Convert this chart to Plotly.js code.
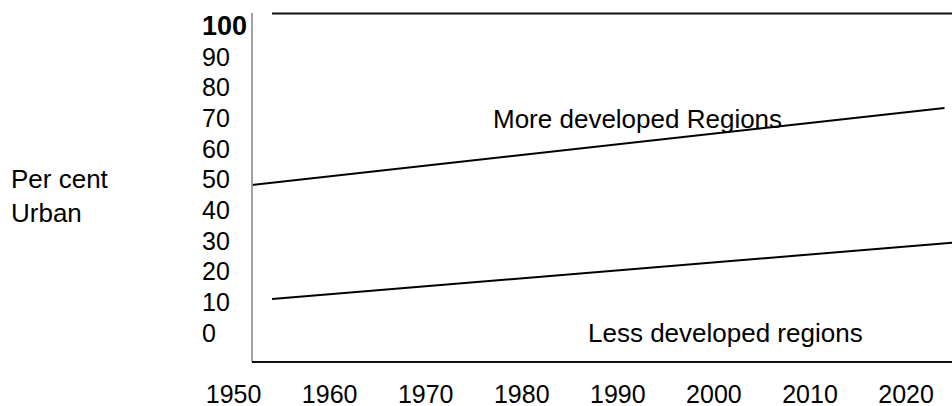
<!DOCTYPE html>
<html>
<head>
<meta charset="utf-8">
<script src="https://cdn.plot.ly/plotly-3.0.1.min.js"></script>
<style>html,body{margin:0;padding:0;background:#fff;}#chart{width:952px;height:406px;}</style>
</head>
<body>
<div id="chart"></div>
<script>
// Data
const yearTicks = [1950, 1960, 1970, 1980, 1990, 2000, 2010, 2020];
const pctTicks = [0, 10, 20, 30, 40, 50, 60, 70, 80, 90, 100];
const moreYears = [1952, 2024];
const morePct = [48.3, 73.4];
const lessYears = [1954, 2025];
const lessPct = [11.1, 29.5];
const labelMore = "More developed Regions";
const labelLess = "Less developed regions";
const yLabel = "Per cent<br>Urban";

const W = 952, H = 406;
const px = v => v / W;          // pixel -> paper x
const py = v => 1 - v / H;      // pixel -> paper y

const font = "Liberation Sans, Arial, sans-serif";
const pctText = pctTicks.map(v => v === 100 ? '<b><span style="font-size:27px">100</span></b>' : String(v));

const traces = [
  {x: moreYears, y: morePct, mode: 'lines', line: {color: '#000', width: 2}, hoverinfo: 'skip'},
  {x: lessYears, y: lessPct, mode: 'lines', line: {color: '#000', width: 2}, hoverinfo: 'skip'}
];

const layout = {
  width: W, height: H,
  margin: {l: 0, r: 0, t: 0, b: 0, pad: 0},
  paper_bgcolor: '#fff', plot_bgcolor: 'rgba(0,0,0,0)',
  showlegend: false,
  font: {family: font, size: 25, color: '#000'},
  xaxis: {
    domain: [0, 1], range: [1925.69, 2024.78],
    anchor: 'free', position: py(377), side: 'bottom',
    tickvals: yearTicks, ticktext: yearTicks.map(String),
    showgrid: false, zeroline: false, showline: false, ticks: '',
    automargin: false, tickfont: {size: 25, color: '#000'}
  },
  yaxis: {
    domain: [0, 1], range: [-23.81, 108.61],
    anchor: 'free', position: px(201), side: 'right',
    tickvals: pctTicks, ticktext: pctText,
    showgrid: false, zeroline: false, showline: false, ticks: '',
    automargin: false, tickfont: {size: 25, color: '#000'}
  },
  shapes: [
    {type: 'line', xref: 'paper', yref: 'paper', x0: px(252), x1: px(252), y0: py(13), y1: py(362), line: {color: '#444', width: 1}},
    {type: 'line', xref: 'paper', yref: 'paper', x0: px(272), x1: px(952), y0: py(13.5), y1: py(13.5), line: {color: '#111', width: 2}},
    {type: 'line', xref: 'paper', yref: 'paper', x0: px(252), x1: px(952), y0: py(362), y1: py(362), line: {color: '#111', width: 2}}
  ],
  annotations: [
    {text: labelMore, xref: 'paper', yref: 'paper', x: px(491), y: py(119), xanchor: 'left', yanchor: 'middle', showarrow: false, font: {size: 26}},
    {text: labelLess, xref: 'paper', yref: 'paper', x: px(586), y: py(333), xanchor: 'left', yanchor: 'middle', showarrow: false, font: {size: 26}},
    {text: yLabel, xref: 'paper', yref: 'paper', x: px(9), y: py(196), xanchor: 'left', yanchor: 'middle', align: 'left', showarrow: false, font: {size: 26}}
  ]
};

Plotly.newPlot('chart', traces, layout, {staticPlot: true, displayModeBar: false});
</script>
</body>
</html>
